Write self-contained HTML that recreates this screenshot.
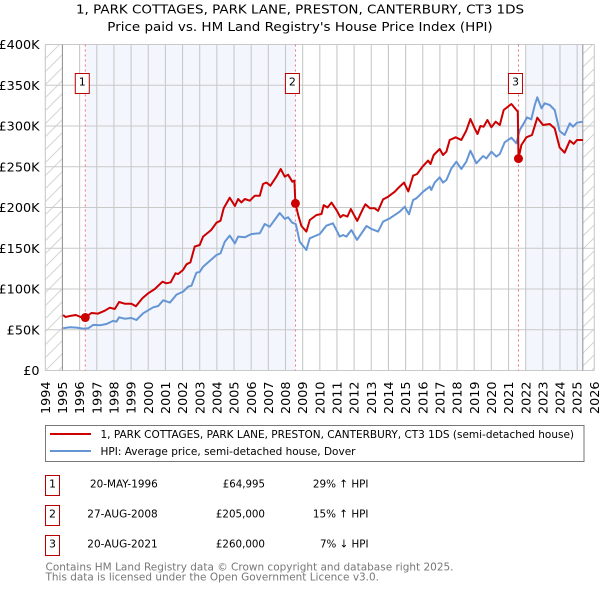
<!DOCTYPE html>
<html lang="en">
<head>
<meta charset="utf-8">
<title>1, PARK COTTAGES price paid vs. HPI</title>
<style>
html,body{margin:0;padding:0;background:#fff;}
svg{display:block;font-family:"DejaVu Sans","Liberation Sans",sans-serif;}
</style>
</head>
<body>
<svg id="chart" xmlns="http://www.w3.org/2000/svg" width="600" height="590" viewBox="0 0 600 590">
  <defs>
    <pattern id="hatch" patternUnits="userSpaceOnUse" width="13" height="13">
      <path d="M-1 14 L14 -1 M-1 1 L1 -1 M12 14 L14 12" stroke="#d4d4d4" stroke-width="1" fill="none"/>
    </pattern>
  </defs>
  <text x="76" y="13.5" font-size="12.5" fill="#000" textLength="448" lengthAdjust="spacingAndGlyphs">1, PARK COTTAGES, PARK LANE, PRESTON, CANTERBURY, CT3 1DS</text>
  <text x="107.3" y="31" font-size="12.5" fill="#000" textLength="385.4" lengthAdjust="spacingAndGlyphs">Price paid vs. HM Land Registry's House Price Index (HPI)</text>
  <g id="plot"></g>

  <g>
    <rect x="45.5" y="425.5" width="538.5" height="36" fill="#fff" stroke="#777" stroke-width="1"/>
    <line x1="50" x2="91" y1="434" y2="434" stroke="#cc0000" stroke-width="2"/>
    <text x="100.5" y="438" font-size="11" fill="#000" textLength="473.5" lengthAdjust="spacingAndGlyphs">1, PARK COTTAGES, PARK LANE, PRESTON, CANTERBURY, CT3 1DS (semi-detached house)</text>
    <line x1="50" x2="91" y1="451" y2="451" stroke="#6495d5" stroke-width="2"/>
    <text x="100.5" y="455" font-size="11" fill="#000" textLength="255" lengthAdjust="spacingAndGlyphs">HPI: Average price, semi-detached house, Dover</text>
  </g>

  <g font-size="11" fill="#000">
    <rect x="45.5" y="475.5" width="14" height="20" fill="#fff" stroke="#bb0000"/>
    <text x="52.5" y="487.3" text-anchor="middle">1</text>
    <text x="90" y="487.3" textLength="67.7" lengthAdjust="spacingAndGlyphs">20-MAY-1996</text>
    <text x="222.8" y="487.3" textLength="42.2" lengthAdjust="spacingAndGlyphs">£64,995</text>
    <text x="312.9" y="487.3" textLength="55.6" lengthAdjust="spacingAndGlyphs">29% ↑ HPI</text>

    <rect x="45.5" y="505.5" width="14" height="20" fill="#fff" stroke="#bb0000"/>
    <text x="52.5" y="517.3" text-anchor="middle">2</text>
    <text x="87.3" y="517.3" textLength="70.4" lengthAdjust="spacingAndGlyphs">27-AUG-2008</text>
    <text x="215.9" y="517.3" textLength="49.1" lengthAdjust="spacingAndGlyphs">£205,000</text>
    <text x="312.9" y="517.3" textLength="55.6" lengthAdjust="spacingAndGlyphs">15% ↑ HPI</text>

    <rect x="45.5" y="535.5" width="14" height="20" fill="#fff" stroke="#bb0000"/>
    <text x="52.5" y="547.3" text-anchor="middle">3</text>
    <text x="87.3" y="547.3" textLength="70.4" lengthAdjust="spacingAndGlyphs">20-AUG-2021</text>
    <text x="215.9" y="547.3" textLength="49.1" lengthAdjust="spacingAndGlyphs">£260,000</text>
    <text x="320" y="547.3" textLength="48.5" lengthAdjust="spacingAndGlyphs">7% ↓ HPI</text>
  </g>

  <text x="45.5" y="570.5" font-size="11" fill="#777" textLength="408" lengthAdjust="spacingAndGlyphs">Contains HM Land Registry data © Crown copyright and database right 2025.</text>
  <text x="45.5" y="580.5" font-size="11" fill="#777" textLength="333.5" lengthAdjust="spacingAndGlyphs">This data is licensed under the Open Government Licence v3.0.</text>
</svg>
<script>
const xTickYears = [1994,1995,1996,1997,1998,1999,2000,2001,2002,2003,2004,2005,2006,2007,2008,2009,2010,2011,2012,2013,2014,2015,2016,2017,2018,2019,2020,2021,2022,2023,2024,2025,2026];
const yTickValues = [0,50,100,150,200,250,300,350,400];
const yTickLabels = ['£0','£50K','£100K','£150K','£200K','£250K','£300K','£350K','£400K'];
const hpiYears = [1995.04,1995.43,1995.82,1996.2,1996.5,1996.79,1997.18,1997.57,1997.95,1998.15,1998.3,1998.63,1999.02,1999.31,1999.7,2000.29,2000.58,2000.87,2001.26,2001.65,2002.03,2002.33,2002.52,2002.81,2003,2003.2,2003.98,2004.21,2004.46,2004.75,2005.05,2005.24,2005.63,2006.02,2006.5,2006.79,2007.08,2007.66,2007.96,2008.15,2008.4,2008.6,2008.83,2009.22,2009.41,2010,2010.38,2010.77,2011.16,2011.36,2011.55,2011.84,2012.17,2012.72,2013,2013.4,2013.69,2014.08,2014.66,2014.95,2015.2,2015.44,2015.63,2016.02,2016.41,2016.5,2016.7,2016.99,2017.18,2017.38,2017.67,2017.96,2018.25,2018.54,2018.78,2019.13,2019.52,2019.71,2020,2020.29,2020.49,2020.78,2021.17,2021.46,2021.65,2021.89,2022.08,2022.33,2022.53,2022.68,2022.92,2023.11,2023.4,2023.69,2023.98,2024.27,2024.57,2024.76,2024.99,2025.34];
const hpiValues = [51.8,53,52.6,51.4,51.8,55.9,55.5,57.1,60.8,60,65.3,63.6,64.4,62,70.2,77.5,79.2,86.1,83.3,93.1,96.8,102.9,104.1,120,120.9,127.4,141.7,143.8,158,165.5,156,164.3,163.4,167.5,168.3,179.8,176.5,193.3,186,188,181.4,179.8,158,147.9,162.2,167.5,177.7,180.6,164.3,166.3,164.3,172.4,160.2,177.3,173.7,170.4,182.7,186.7,194.9,201,191.6,209.2,211.3,219.4,225.6,221.5,230.5,237,230.5,233.8,248,256.2,247.2,256.2,269.7,254.2,263.2,260.3,268.5,262.4,265.7,280,285.7,278.7,295,303.3,310.6,308.2,325.8,335.2,321.7,327.8,325.8,319.6,293.9,289,303.3,299.2,304.1,305.3];
const priceYears = [1995.04,1995.18,1995.52,1995.78,1996.11,1996.33,1996.69,1997.08,1997.47,1997.76,1998.05,1998.3,1998.63,1999.02,1999.28,1999.66,2000,2000.38,2000.83,2001.06,2001.31,2001.59,2001.74,2002.03,2002.23,2002.46,2002.71,2003,2003.2,2003.67,2003.98,2004.21,2004.4,2004.75,2005.05,2005.24,2005.43,2005.63,2005.92,2006.21,2006.5,2006.69,2006.89,2007.12,2007.47,2007.72,2007.96,2008.15,2008.4,2008.52,2008.58,2008.74,2008.93,2009.22,2009.42,2009.81,2010.1,2010.23,2010.45,2010.68,2010.97,2011.2,2011.36,2011.61,2011.81,2012.18,2012.53,2012.66,2012.92,2013.2,2013.4,2013.69,2013.98,2014.37,2014.66,2014.91,2015.16,2015.44,2015.67,2015.98,2016.31,2016.45,2016.64,2016.99,2017.18,2017.38,2017.57,2017.92,2018.25,2018.54,2018.78,2019.03,2019.19,2019.36,2019.55,2019.77,2020,2020.25,2020.49,2020.72,2021.17,2021.46,2021.54,2021.58,2021.75,2022.04,2022.37,2022.68,2023.01,2023.4,2023.69,2023.98,2024.27,2024.57,2024.8,2024.99,2025.34];
const priceValues = [68.1,65.7,67.3,68.1,65.3,65,70.6,69.8,73.4,77.1,75.5,84.1,82,82,78.8,88.6,94.7,100,109,107,108.2,119.3,118.4,123.4,130.3,132.8,152,154,164.3,172.4,181.4,183.8,199,212,201.9,210.4,206.3,210.4,208.4,214.5,214.5,228.8,230.5,226.8,237.8,247.2,237.8,240.3,231.7,232.9,205,190.8,177.3,170.4,184.7,190.8,192,203,200,206,197,188,190.8,188.8,198.2,183.5,199,203.9,199,199,196,210,213.3,219.4,225.6,230.5,219.8,239,241.1,250,257.5,253.4,264.4,271.8,264.4,268.5,282.8,286.1,282.8,294.3,308.6,297.1,290.2,300,299.2,307.4,298.4,305.3,301.2,319.6,327,319.6,317.6,260,276.7,286.1,289,310.2,301.2,302.5,297.1,273.8,267.3,282,278,282.8,282.8];
const saleYears = [1996.33,2008.58,2021.58];
const salePrices = [65,205,260];
const saleLabels = ['1','2','3'];
const shadedFromTo = [[1996.33,2008.58],[2022,2025.33]];
const hatchedFromTo = [[1994,1995],[2025.33,2026]];

const NS = 'http://www.w3.org/2000/svg';
const plot = document.getElementById('plot');
const x = (yr) => 45.3 + (yr - 1994) * 17.156;
const y = (k) => 370.5 - k * 0.815;
function mk(tag, attrs, parent) {
  const el = document.createElementNS(NS, tag);
  for (const k in attrs) el.setAttribute(k, attrs[k]);
  (parent || plot).appendChild(el);
  return el;
}
const pathOf = (xs, vs) => xs.map((t, i) => (i ? 'L' : 'M') + x(t).toFixed(1) + ' ' + y(vs[i]).toFixed(1)).join(' ');

shadedFromTo.forEach(function (r) {
  const el = mk('rect', {x: x(r[0]), y: y(400), width: x(r[1]) - x(r[0]), height: y(0) - y(400), fill: '#f3f6fd'});
  
  
});
hatchedFromTo.forEach(function (r) {
  const el = mk('rect', {x: x(r[0]), y: y(400), width: x(r[1]) - x(r[0]), height: y(0) - y(400), fill: 'url(#hatch)'});
  
  
});
xTickYears.forEach(function (yr) {
  const g = mk('line', {x1: x(yr), x2: x(yr), y1: y(400), y2: y(0), stroke: '#c9c9c9', 'stroke-width': 1.1});
  
  
  const t = mk('text', {transform: 'translate(' + (x(yr) + 4.6) + ',414) rotate(-90)', 'font-size': 12.8, fill: '#000'});
  t.textContent = yr;
  
  
});
yTickValues.forEach(function (v, i) {
  const g = mk('line', {x1: x(1994), x2: x(2026), y1: y(v), y2: y(v), stroke: '#c9c9c9', 'stroke-width': 1.1});
  
  
  const t = mk('text', {x: 39.5, y: y(v) + 4.5, 'text-anchor': 'end', 'font-size': 12.8, fill: '#000'});
  t.textContent = yTickLabels[i];
  
  
});
[1995, 2025.33].forEach(function (yr) {
  const b = mk('line', {x1: x(yr), x2: x(yr), y1: y(400), y2: y(0), stroke: '#999', 'stroke-width': 1.1});
  
  
});
saleYears.forEach(function (yr) {
  const d = mk('line', {x1: x(yr), x2: x(yr), y1: y(400), y2: y(0), stroke: '#ee7080', 'stroke-width': 1, 'stroke-dasharray': '2 3'});
  
  
});
const hpiLine = mk('path', {d: pathOf(hpiYears, hpiValues), fill: 'none', stroke: '#6495d5', 'stroke-width': 2, 'stroke-linejoin': 'round'});


const priceLine = mk('path', {d: pathOf(priceYears, priceValues), fill: 'none', stroke: '#cc0000', 'stroke-width': 2, 'stroke-linejoin': 'round'});


saleYears.forEach(function (yr, i) {
  const c = mk('circle', {cx: x(yr), cy: y(salePrices[i]), r: 4.5, fill: '#cc0000'});
  
  
  const b = mk('rect', {x: x(yr) - 10, y: 73.5, width: 14, height: 20, fill: '#fff', stroke: '#bb0000', 'stroke-width': 1});
  
  
  const t = mk('text', {x: x(yr) - 3, y: 85.3, 'text-anchor': 'middle', 'font-size': 11, fill: '#000'});
  t.textContent = saleLabels[i];
  
  
});
</script>
</body>
</html>
